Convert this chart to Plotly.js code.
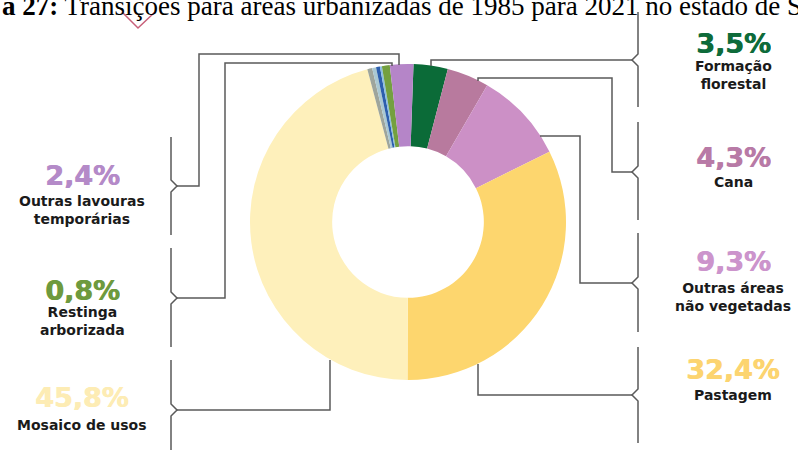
<!DOCTYPE html>
<html>
<head>
<meta charset="utf-8">
<script src="https://cdn.plot.ly/plotly-3.0.1.min.js"></script>
<style>html,body{margin:0;padding:0;background:#fff;}#chart{width:798px;height:450px;}</style>
</head>
<body>
<div id="chart"></div>
<script>
// Slices, clockwise from 12 o'clock
const categories = ["Formação florestal", "Cana", "Outras áreas não vegetadas", "Pastagem", "Mosaico de usos",
  "Outros 1", "Outros 2", "Outros 3", "Outros 4", "Restinga arborizada", "Outras lavouras temporárias"];
const values = [3.5, 4.3, 9.3, 32.4, 45.8, 0.5, 0.4, 0.4, 0.2, 0.8, 2.4];
const sliceColors = ["#0b6b38", "#b87a9e", "#cc90c6", "#fdd66e", "#fef0bb",
  "#9ea59c", "#aac8d2", "#2c5fae", "#8cbfe0", "#74a040", "#b585c8"];

// Labels (percent text, name, colour)
const leftPct = ["2,4%", "0,8%", "45,8%"];
const leftNames = ["Outras lavouras<br>temporárias", "Restinga<br>arborizada", "Mosaico de usos"];
const leftColors = ["#b48ac8", "#6e9a3e", "#fdecb4"];
const rightPct = ["3,5%", "4,3%", "9,3%", "32,4%"];
const rightNames = ["Formação<br>florestal", "Cana", "Outras áreas<br>não vegetadas", "Pastagem"];
const rightColors = ["#0e6b3a", "#b87aa6", "#cc94cc", "#fcd470"];
const titleText = "<b>a 27:</b> Transições para áreas urbanizadas de 1985 para 2021 no estado de São Paulo";

const W = 798, H = 450;
const px = x => x / W, py = y => 1 - y / H;

// layout geometry (pixels)
const leftPctY = [175, 290, 397], leftNameY = [210, 321, 425];
const rightPctY = [43, 157, 261, 369], rightNameY = [75, 182, 297, 395];

const annotations = [];
annotations.push({text: titleText, x: px(0), y: py(6), xref: 'paper', yref: 'paper', xanchor: 'left', yanchor: 'middle',
  showarrow: false, font: {family: 'Liberation Serif', size: 27, color: '#000'}});
function addBlock(cx, pct, pctY, col, name, nameY) {
  annotations.push({text: pct, x: px(cx), y: py(pctY), xref: 'paper', yref: 'paper', xanchor: 'center', yanchor: 'middle',
    height: 26, valign: 'middle', borderpad: 0,
    showarrow: false, font: {family: 'DejaVu Sans', size: 27, color: col, weight: 'bold', shadow: '0.7px 0 0 ' + col}});
  annotations.push({text: '<b>' + name + '</b>', x: px(cx), y: py(nameY), xref: 'paper', yref: 'paper', xanchor: 'center', yanchor: 'middle',
    borderpad: 0, showarrow: false, font: {family: 'DejaVu Sans', size: 14, color: '#1a1a1a'}});
}
leftPct.forEach((t, i) => addBlock(82, t, leftPctY[i], leftColors[i], leftNames[i], leftNameY[i]));
rightPct.forEach((t, i) => addBlock(733, t, rightPctY[i], rightColors[i], rightNames[i], rightNameY[i]));

function pathStr(pts) {
  return pts.map((p, i) => (i ? 'L ' : 'M ') + px(p[0]).toFixed(5) + ',' + py(p[1]).toFixed(5)).join(' ');
}
function brace(x, top, bottom, notch, dir) {
  return pathStr([[x, top], [x, notch - 6], [x + dir * 6, notch], [x, notch + 6], [x, bottom]]);
}
const lineStyle = {color: '#5a5a5a', width: 1.5};
const shapePaths = [
  brace(171, 137, 235, 186, 1), brace(171, 248, 347, 298, 1), brace(171, 360, 452, 410, 1),
  brace(638, 12, 107, 60, -1), brace(638, 122, 220, 172, -1), brace(638, 233, 332, 283, -1), brace(638, 347, 443, 395, -1),
  pathStr([[177, 186], [199, 186], [199, 54], [399, 54], [399, 65]]),
  pathStr([[177, 298], [225, 298], [225, 63], [392, 63], [392, 66]]),
  pathStr([[177, 410], [330, 410], [330, 360]]),
  pathStr([[632, 60], [431, 60], [431, 66]]),
  pathStr([[632, 172], [612, 172], [612, 78], [478, 78], [478, 81]]),
  pathStr([[632, 283], [580, 283], [580, 136], [540, 136]]),
  pathStr([[632, 395], [478, 395], [478, 364]])
];
const shapes = shapePaths.map(p => ({type: 'path', path: p, xref: 'paper', yref: 'paper', line: lineStyle}));
shapes.push({type: 'path', path: pathStr([[122, 12], [138, 28], [155, 12]]), xref: 'paper', yref: 'paper',
  line: {color: '#c8607a', width: 1.5}});

const trace = {
  type: 'pie', labels: categories, values: values, sort: false, direction: 'clockwise', rotation: 2,
  hole: 0.48, marker: {colors: sliceColors, line: {width: 0}}, textinfo: 'none', showlegend: false,
  domain: {x: [px(250), px(566)], y: [py(380), py(64)]}
};

Plotly.newPlot('chart', [trace], {
  width: W, height: H, margin: {l: 0, r: 0, t: 0, b: 0}, paper_bgcolor: '#fff',
  showlegend: false, annotations: annotations, shapes: shapes
}, {displayModeBar: false, staticPlot: true});
</script>
</body>
</html>
